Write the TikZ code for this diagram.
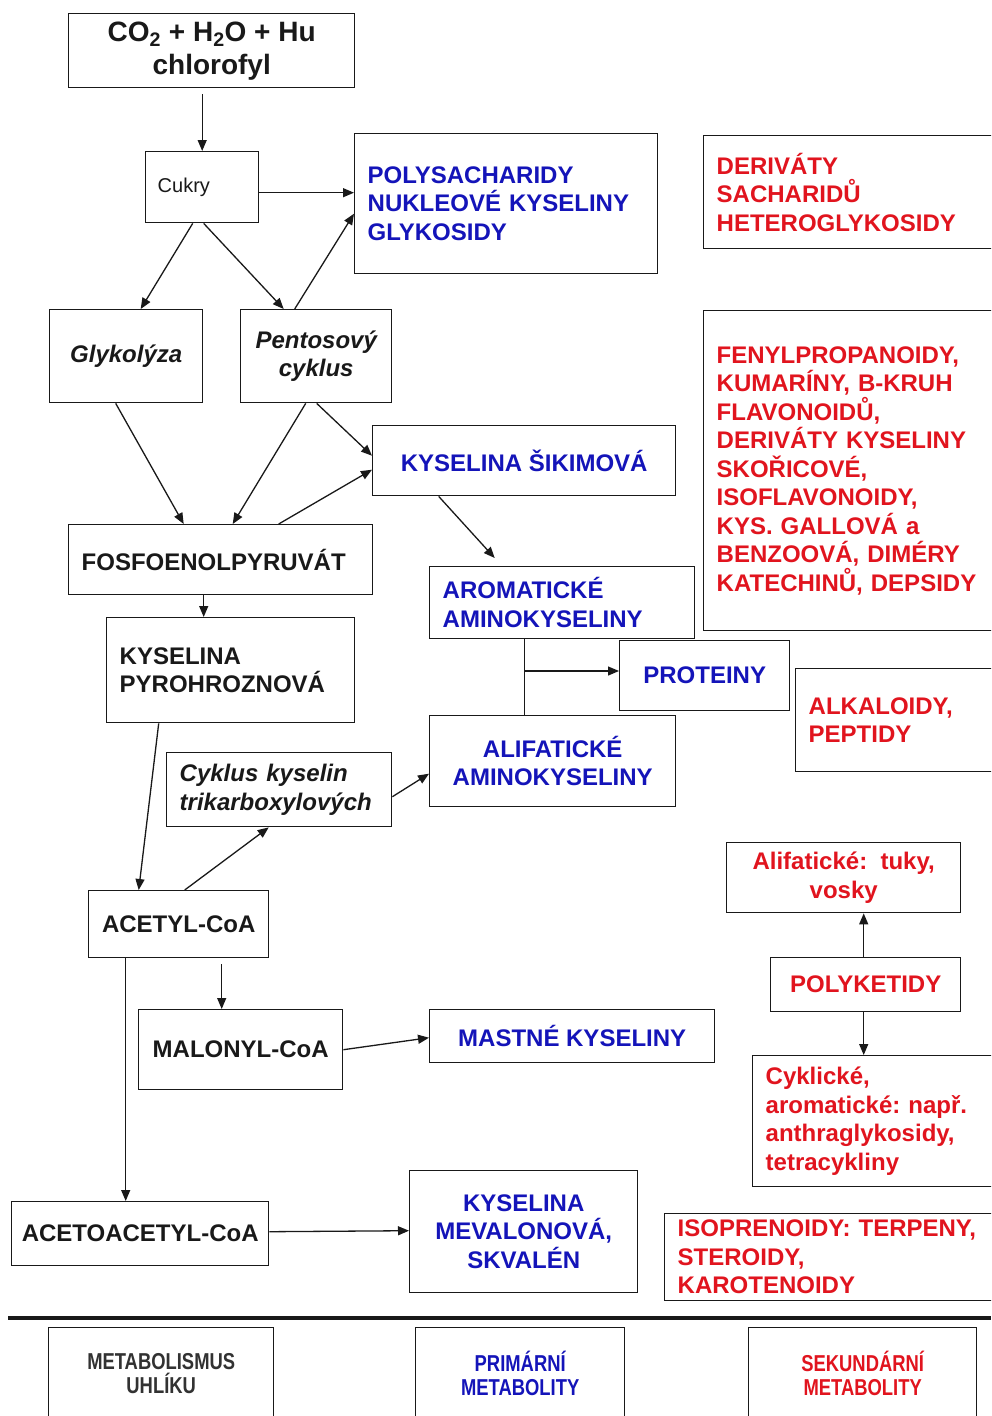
\documentclass[tikz,border=0pt]{standalone}
\usepackage{fontspec}
\setmainfont{Liberation Sans}
\newfontfamily\narrowf[FakeStretch=0.8]{Liberation Sans}
\usetikzlibrary{arrows.meta}
\hyphenpenalty=10000
\exhyphenpenalty=10000
\frenchspacing
\definecolor{bk}{RGB}{25,25,25}
\definecolor{pblue}{RGB}{20,20,185}
\definecolor{sred}{RGB}{225,20,30}
\definecolor{leggray}{RGB}{50,50,50}
\tikzset{
  box/.style={draw=bk, line width=1.4pt, fill=white, inner sep=0pt, text=bk,
    font=\bfseries\fontsize{24}{28.5}\selectfont, align=center, anchor=north west},
  cbox/.style 2 args={box, minimum width=#1, minimum height=#2},
  lbox/.style 2 args={box, align=left, minimum height=#1, text width=#2, inner xsep=13pt},
  itf/.style={font=\bfseries\itshape\fontsize{24}{28.5}\selectfont},
  pri/.style={text=pblue},
  sec/.style={text=sred},
  leg/.style={draw=bk, line width=1.4pt, fill=white, inner sep=0pt, anchor=north west,
    font=\narrowf\bfseries\fontsize{23}{24}\selectfont, align=center, minimum height=92},
  arr/.style={draw=bk, line width=1.3pt, -{Triangle[length=11pt,width=9pt]}},
  ln/.style={draw=bk, line width=1.3pt},
}
\begin{document}
\begin{tikzpicture}[x=1pt,y=-1pt]
\useasboundingbox (0,0) rectangle (991,1416);
\clip (0,0) rectangle (991,1416);
\fill[white] (0,0) rectangle (991,1416);

% nodes
\node[cbox={286}{74}, font=\bfseries\fontsize{28}{33}\selectfont] (top) at (68,13)
  {CO\textsubscript{2} + H\textsubscript{2}O + Hu\\chlorofyl};
\node[lbox={71}{89pt}, inner xsep=12pt, font=\fontsize{20}{24}\selectfont] (cukry) at (145,151) {Cukry};
\node[lbox={140}{277pt}, pri] (poly) at (354,133) {POLYSACHARIDY\\NUKLEOVÉ KYSELINY\\GLYKOSIDY};
\node[lbox={113}{300pt}, sec] (deriv) at (703,135) {DERIVÁTY\\SACHARIDŮ\\HETEROGLYKOSIDY};
\node[cbox={153}{93}, itf] (glyk) at (49,309) {Glykolýza};
\node[cbox={151}{93}, itf] (pent) at (240,309) {Pentosový\\cyklus};
\node[cbox={303}{70}, pri] (sik) at (372,425) {KYSELINA ŠIKIMOVÁ};
\node[lbox={320}{300pt}, sec] (fenyl) at (703,310) {FENYLPROPANOIDY,\\KUMARÍNY, B-KRUH\\FLAVONOIDŮ,\\DERIVÁTY KYSELINY\\SKOŘICOVÉ,\\ISOFLAVONOIDY,\\KYS. GALLOVÁ a\\BENZOOVÁ, DIMÉRY\\KATECHINŮ, DEPSIDY};
\node[lbox={70}{278pt}] (fosfo) at (68,524) {FOSFOENOLPYRUVÁT};
\node[lbox={72}{239pt}, pri] (arom) at (429,566) {AROMATICKÉ\\AMINOKYSELINY};
\node[lbox={105}{222pt}] (pyro) at (106,617) {KYSELINA\\PYROHROZNOVÁ};
\node[cbox={170}{70}, pri] (prot) at (619,640) {PROTEINY};
\node[lbox={103}{250pt}, sec] (alk) at (795,668) {ALKALOIDY,\\PEPTIDY};
\node[cbox={246}{91}, pri] (alif) at (429,715) {ALIFATICKÉ\\AMINOKYSELINY};
\node[lbox={74}{199pt}, itf] (cyk) at (166,752) {Cyklus kyselin\\trikarboxylových};
\node[cbox={234}{70}, sec] (alifred) at (726,842) {Alifatické:\ \ tuky,\\vosky};
\node[cbox={180}{67}] (acetyl) at (88,890) {ACETYL-CoA};
\node[cbox={190}{54}, sec] (polyk) at (770,957) {POLYKETIDY};
\node[cbox={204}{80}] (malonyl) at (138,1009) {MALONYL-CoA};
\node[cbox={285}{53}, pri] (mastne) at (429,1009) {MASTNÉ KYSELINY};
\node[lbox={131}{260pt}, sec] (cyklicke) at (752,1055) {Cyklické,\\aromatické: např.\\anthraglykosidy,\\tetracykliny};
\node[cbox={257}{64}] (acetoacetyl) at (11,1201) {ACETOACETYL-CoA};
\node[cbox={228}{122}, pri] (meval) at (409,1170) {KYSELINA\\MEVALONOVÁ,\\SKVALÉN};
\node[lbox={87}{314pt}, sec] (isopren) at (664,1213) {ISOPRENOIDY: TERPENY,\\STEROIDY,\\KAROTENOIDY};

% separator rule
\draw[line width=4pt, bk] (8,1318) -- (991,1318);

% legend
\node[leg, minimum width=225, text=leggray] (l1) at (48,1327) {METABOLISMUS\\UHLÍKU};
\node[leg, minimum width=209, text=pblue] (l2) at (415,1327) {PRIMÁRNÍ\\METABOLITY};
\node[leg, minimum width=228, text=sred] (l3) at (748,1327) {SEKUNDÁRNÍ\\METABOLITY};

% connectors
\coordinate (a1s) at ([yshift=-6pt]top.south -| cukry.north);
\draw[arr] (a1s) -- (cukry.north);
\coordinate (a2s) at ([yshift=-5.5pt]cukry.east);
\draw[arr] (a2s) -- (a2s -| poly.west);
\draw[arr] ([xshift=-9.5pt]cukry.south) -- ([xshift=14.5pt]glyk.north);
\draw[arr] ([xshift=1.5pt]cukry.south) -- ([xshift=-32.5pt]pent.north);
\draw[arr] ([xshift=-21.5pt]pent.north) -- ([yshift=-10pt]poly.west);
\draw[arr] ([xshift=-10.5pt]glyk.south) -- ([xshift=-37pt]fosfo.north);
\draw[arr] ([xshift=-10.5pt]pent.south) -- ([xshift=12pt]fosfo.north);
\draw[arr] ([xshift=0.5pt]pent.south) -- ([yshift=5pt]sik.west);
\draw[arr] ([xshift=58pt]fosfo.north) -- ([yshift=-9pt]sik.west);
\draw[arr] ([xshift=-85.5pt]sik.south) -- ([xshift=-67.5pt,yshift=8pt]arom.north);
\coordinate (a11s) at ([xshift=-17pt]fosfo.south);
\draw[arr] (a11s) -- (a11s |- pyro.north);
\draw[arr] ([xshift=-72pt]pyro.south) -- ([xshift=-40pt]acetyl.north);
\draw[arr] ([xshift=6pt]acetyl.north) -- ([xshift=-10.5pt]cyk.south);
\draw[arr] ([yshift=-7pt]cyk.east) -- ([yshift=-12.5pt]alif.west);
\coordinate (a15s) at ([xshift=-37.5pt]arom.south);
\draw[ln] (a15s) -- (a15s |- alif.north);
\coordinate (j) at (a15s |- 0,671);
\draw[arr] (j) -- (j -| prot.west);
\coordinate (a16s) at ([xshift=43pt,yshift=-6pt]acetyl.south);
\draw[arr] (a16s) -- (a16s |- malonyl.north);
\coordinate (a17s) at ([xshift=-53pt]acetyl.south);
\draw[arr] (a17s) -- (a17s |- acetoacetyl.north);
\draw[arr] (malonyl.east) -- ([yshift=-1.5pt]mastne.west);
\draw[arr] ([yshift=2pt]acetoacetyl.east) -- ([yshift=1pt]meval.west);
\coordinate (a20s) at ([xshift=-2pt]polyk.north);
\draw[arr] (a20s) -- (a20s |- alifred.south);
\coordinate (a21s) at ([xshift=-2pt]polyk.south);
\draw[arr] (a21s) -- (a21s |- cyklicke.north);
\end{tikzpicture}
\end{document}
